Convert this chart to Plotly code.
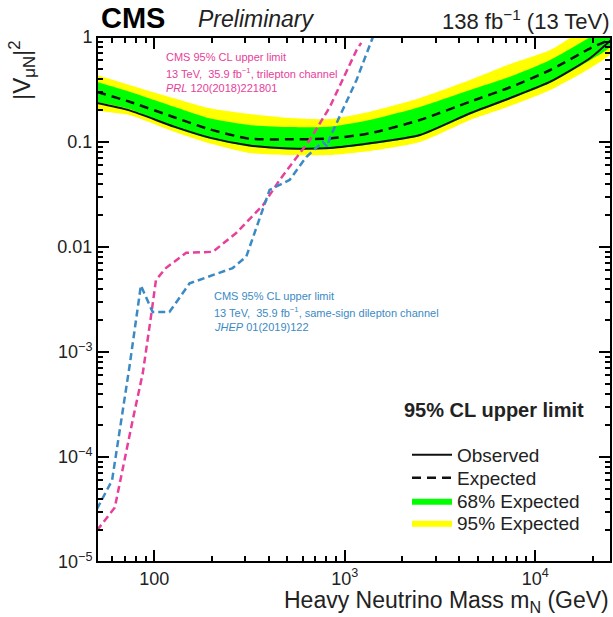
import plotly.graph_objects as go

# ---------------- data ----------------
mass = [50, 74, 127, 195, 316, 513, 834, 1354, 2481, 4549, 7388, 11994, 19480, 25000]
expected = [0.30, 0.242, 0.172, 0.132, 0.1075, 0.106, 0.108, 0.121, 0.162, 0.242, 0.332, 0.485, 0.78, 0.957]
observed = [0.235, 0.20, 0.14, 0.110, 0.0926, 0.0867, 0.0877, 0.0972, 0.1166, 0.1877, 0.2624, 0.3752, 0.631, 0.936]
exp_p1 = [0.3727, 0.3013, 0.2169, 0.1682, 0.1452, 0.139, 0.1398, 0.162, 0.2154, 0.3128, 0.4187, 0.604, 1.0, 1.30]
exp_m1 = [0.2404, 0.2061, 0.1368, 0.1075, 0.0906, 0.0848, 0.0858, 0.0947, 0.114, 0.1827, 0.2568, 0.3646, 0.604, 0.821]
exp_p2 = [0.4345, 0.349, 0.2607, 0.2094, 0.1848, 0.1693, 0.1656, 0.1943, 0.2624, 0.3895, 0.5533, 0.7519, 1.30, 1.62]
exp_m2 = [0.1973, 0.1808, 0.1253, 0.0972, 0.0786, 0.0752, 0.0752, 0.0821, 0.100, 0.162, 0.2202, 0.3128, 0.507, 0.704]

trilep_mass = [50, 62, 77, 87, 96, 102, 115, 147, 203, 269, 372, 455, 654, 834, 1153, 1220]
trilep_limit = [2.0e-5, 3.3e-5, 2.25e-4, 6.3e-4, 2.17e-3, 4.85e-3, 6.3e-3, 8.8e-3, 9.0e-3,
                0.0136, 0.025, 0.0435, 0.104, 0.215, 0.75, 0.88]

ssdilep_mass = [50, 60, 74, 85, 98, 120, 153, 258, 304, 403, 513, 628, 766, 810, 835, 1153, 1420]
ssdilep_limit = [3.2e-5, 6.0e-5, 7.2e-4, 4.3e-3, 2.4e-3, 2.4e-3, 4.5e-3, 6.3e-3, 8.1e-3,
                 0.035, 0.0435, 0.072, 0.100, 0.090, 0.110, 0.39, 1.05]

x_tickvals = [100, 1000, 10000]
x_ticktext = ["100", "10<sup>3</sup>", "10<sup>4</sup>"]
x_minor = [60, 70, 80, 90, 200, 300, 400, 500, 600, 700, 800, 900,
           2000, 3000, 4000, 5000, 6000, 7000, 8000, 9000, 20000]
y_tickvals = [1, 0.1, 0.01, 1e-3, 1e-4, 1e-5]
y_ticktext = ["1", "0.1", "0.01", "10<sup>\u22123</sup>", "10<sup>\u22124</sup>", "10<sup>\u22125</sup>"]
y_minor = [k * 10.0 ** e for e in range(-5, 0) for k in range(2, 10)]

# ---------------- layout geometry ----------------
W, H = 613, 617
L, R, T, B = 97, 2, 37, 55
PW, PH = W - L - R, H - T - B
XR = [1.699, 4.398]
YR = [-5, 0]


def px(x):
    return (x - L) / PW


def py(y):
    return (H - B - y) / PH


FONT = "Liberation Sans, Arial, Helvetica, sans-serif"
PINK = "#e8409a"
BLUE = "#3b8ac4"
TXT = "#222222"

fig = go.Figure()

smooth = dict(shape="spline", smoothing=0.6)

# 95% band
fig.add_trace(go.Scatter(
    x=mass + mass[::-1], y=exp_p2 + exp_m2[::-1], fill="toself",
    fillcolor="#ffff00", line=dict(width=0, color="#ffff00", **smooth), mode="lines",
    name="95% Expected", legend="legend4", hoverinfo="skip"))
# 68% band
fig.add_trace(go.Scatter(
    x=mass + mass[::-1], y=exp_p1 + exp_m1[::-1], fill="toself",
    fillcolor="#00ff00", line=dict(width=0, color="#00ff00", **smooth), mode="lines",
    name="68% Expected", legend="legend3", hoverinfo="skip"))
# expected
fig.add_trace(go.Scatter(
    x=mass, y=expected, mode="lines", name="Expected", legend="legend2",
    line=dict(color="#111111", width=2.5, dash="9px,6px", **smooth)))
# observed
fig.add_trace(go.Scatter(
    x=mass, y=observed, mode="lines", name="Observed", legend="legend",
    line=dict(color="#111111", width=2, **smooth)))
# previous results
fig.add_trace(go.Scatter(
    x=trilep_mass, y=trilep_limit, mode="lines", showlegend=False,
    line=dict(color=PINK, width=2.5, dash="7px,4px")))
fig.add_trace(go.Scatter(
    x=ssdilep_mass, y=ssdilep_limit, mode="lines", showlegend=False,
    line=dict(color=BLUE, width=2.5, dash="7px,4px")))

tickfont = dict(family=FONT, size=18, color=TXT)

fig.update_layout(
    xaxis=dict(type="log", range=XR, tickmode="array", tickvals=x_tickvals, ticktext=x_ticktext,
               ticks="inside", ticklen=12, tickwidth=2, tickcolor="black", showline=True,
               linecolor="black", mirror="allticks", tickfont=tickfont,
               minor=dict(ticks="inside", ticklen=6, tickcolor="black", tickwidth=1.5,
                          tickmode="array", tickvals=x_minor)),
    yaxis=dict(type="log", range=YR, tickmode="array", tickvals=y_tickvals, ticktext=y_ticktext,
               ticks="inside", ticklen=12, tickwidth=2, tickcolor="black", showline=True,
               linecolor="black", mirror="allticks", tickfont=tickfont,
               minor=dict(ticks="inside", ticklen=6, tickcolor="black", tickwidth=1.5,
                          tickmode="array", tickvals=y_minor)),
)

ann = []


def add_text(x, y, text, size, color=TXT, xanchor="left", yanchor="middle", angle=0):
    ann.append(dict(x=px(x), y=py(y), xref="paper", yref="paper", text=text,
                    showarrow=False, xanchor=xanchor, yanchor=yanchor, textangle=angle,
                    font=dict(family=FONT, size=size, color=color)))


add_text(99, 18, "<b>CMS</b>", 29, "black")
add_text(196, 19, "<i>Preliminary</i>", 23, TXT)
add_text(612, 20, "138 fb<sup>\u22121</sup> (13 TeV)", 22, TXT, xanchor="right")
add_text(611, 601, "Heavy Neutrino Mass m<sub>N</sub> (GeV)", 23, TXT, xanchor="right")
add_text(22, 38, "|V<sub>\u03bcN</sub>|<sup>2</sup>", 24, TXT, xanchor="center", yanchor="top", angle=-90)

add_text(164, 57, "CMS 95% CL upper limit", 11, PINK)
add_text(164, 73, "13 TeV,  35.9 fb<sup>\u22121</sup>, trilepton channel", 11, PINK)
add_text(164, 88, "<i>PRL</i> 120(2018)221801", 11, PINK)

add_text(212, 296, "CMS 95% CL upper limit", 11, BLUE)
add_text(212, 312, "13 TeV,  35.9 fb<sup>\u22121</sup>, same-sign dilepton channel", 11, BLUE)
add_text(212, 327, "<i>JHEP</i> 01(2019)122", 11, BLUE)

add_text(402, 410, "<b>95% CL upper limit</b>", 20, TXT)

leg_font = dict(family=FONT, size=19, color=TXT)


def leg(ycen):
    return dict(x=px(407), y=py(ycen), xanchor="left", yanchor="middle",
                bgcolor="rgba(0,0,0,0)", font=leg_font, itemwidth=40, borderwidth=0)


fig.update_layout(
    width=W, height=H, margin=dict(l=L, r=R, t=T, b=B),
    plot_bgcolor="white",
    annotations=ann,
    shapes=[dict(type="rect", xref="paper", yref="paper", x0=0, x1=1, y0=0, y1=1,
                 line=dict(color="black", width=2), layer="above")],
    legend=leg(455), legend2=leg(478), legend3=leg(501), legend4=leg(523),
    showlegend=True,
)

fig.write_html("out.html", config={"displayModeBar": False},
               post_script="document.body.style.margin='0px';")
